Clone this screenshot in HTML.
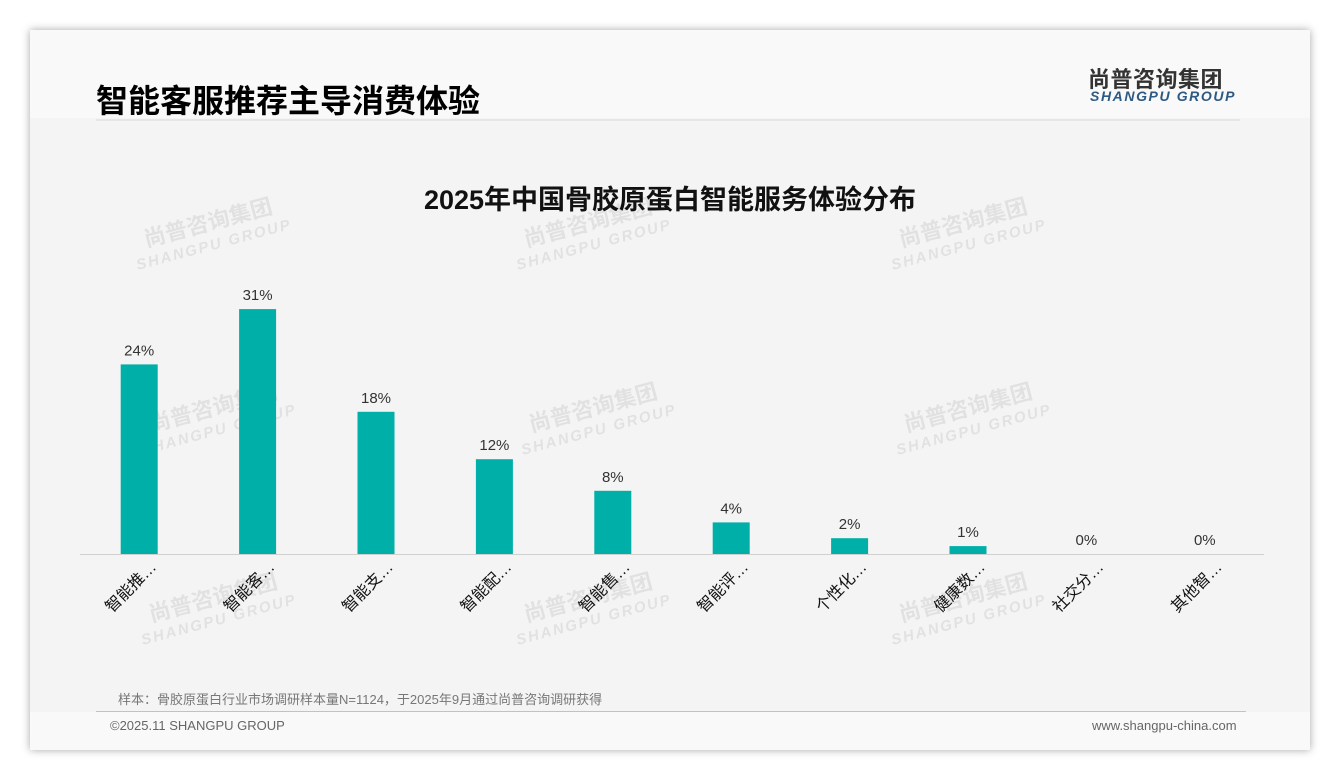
<!DOCTYPE html>
<html><head><meta charset="utf-8">
<style>
body{margin:0;width:1340px;height:780px;background:#fff;font-family:"Liberation Sans","Noto Sans CJK SC",sans-serif;position:relative;overflow:hidden}
#card{position:absolute;left:30px;top:30px;width:1280px;height:720px;background:#f9f9f9;box-shadow:0 0 8px rgba(0,0,0,.35)}
#panel{position:absolute;left:30px;top:118px;width:1280px;height:594px;background:#f4f4f4}
.abs{position:absolute}
</style></head><body>
<div id="card"></div>
<div id="panel"></div>
<div class="abs" style="left:96px;top:76px;font-size:32px;font-weight:bold;color:#000">智能客服推荐主导消费体验</div>
<div class="abs" style="left:96px;top:119px;width:1144px;height:2px;background:#e6e6e6"></div>
<div class="abs" style="left:1088px;top:62px;font-size:22px;font-weight:bold;color:#333;letter-spacing:0.5px">尚普咨询集团</div>
<div class="abs" style="left:1090px;top:88px;font-size:14px;font-weight:bold;font-style:italic;color:#2d5a82;letter-spacing:1.6px">SHANGPU GROUP</div>
<div class="abs" style="left:0;width:1340px;text-align:center;top:178px;font-size:27px;font-weight:bold;color:#111">2025年中国骨胶原蛋白智能服务体验分布</div>
<svg class="abs" style="left:0;top:0" width="1340" height="780">
<g id="wm"></g>
<g id="bars"></g>
</svg>
<div class="abs" style="left:118px;top:689px;font-size:13px;color:#777">样本：骨胶原蛋白行业市场调研样本量N=1124，于2025年9月通过尚普咨询调研获得</div>
<div class="abs" style="left:96px;top:711px;width:1150px;height:1px;background:#b8c4d0"></div>
<div class="abs" style="left:110px;top:718px;font-size:13px;color:#666">©2025.11 SHANGPU GROUP</div>
<div class="abs" style="left:1092px;top:718px;font-size:13px;color:#666">www.shangpu-china.com</div>
<script>
const categories=["智能推…","智能客…","智能支…","智能配…","智能售…","智能评…","个性化…","健康数…","社交分…","其他智…"];
const values=[24,31,18,12,8,4,2,1,0,0];
const valueLabels=["24%","31%","18%","12%","8%","4%","2%","1%","0%","0%"];
const NS="http://www.w3.org/2000/svg";
const g=document.getElementById('bars'),wm=document.getElementById('wm');
const x0=80,x1=1264,base=554,pxPer=7.9,bw=37;
const step=(x1-x0)/categories.length;
const xc=i=>x0+step*(i+0.5);
const y=v=>base-v*pxPer;
function mk(t,a){const e=document.createElementNS(NS,t);for(const k in a)e.setAttribute(k,a[k]);return e;}
[[210,230],[590,230],[965,230],[215,415],[595,415],[970,415],[215,605],[590,605],[965,605]].forEach(p=>{
 const t=mk('g',{transform:`translate(${p[0]},${p[1]}) rotate(-15)`,opacity:0.07});
 
 
 const a=mk('text',{x:0,y:0,'text-anchor':'middle','font-size':22,'font-weight':'bold',fill:'#000'});a.textContent='尚普咨询集团';
 const b=mk('text',{x:0,y:20,'text-anchor':'middle','font-size':15,'font-weight':'bold','font-style':'italic',fill:'#000','letter-spacing':2});b.textContent='SHANGPU GROUP';
 t.appendChild(a);t.appendChild(b);wm.appendChild(t);
});
const ax=mk('line',{x1:x0,x2:x1,y1:base+0.5,y2:base+0.5,stroke:'#d0d0d0','stroke-width':1});


g.appendChild(ax);
categories.forEach((c,i)=>{
 const cx=xc(i),h=values[i]*pxPer;
 if(h>0){const r=mk('rect',{x:cx-bw/2,y:y(values[i]),width:bw,height:h,fill:'#00b0a8'});
 
 
 g.appendChild(r);}
 const v=mk('text',{x:cx,y:y(values[i])-9,'text-anchor':'middle','font-size':15,fill:'#333'});
 v.textContent=valueLabels[i];
 
 
 g.appendChild(v);
 const l=mk('text',{x:cx+18,y:568,'text-anchor':'end','font-size':16,fill:'#111',transform:`rotate(-45 ${cx+18} 568)`});
 l.textContent=c;
 
 
 g.appendChild(l);
});
</script>
</body></html>
